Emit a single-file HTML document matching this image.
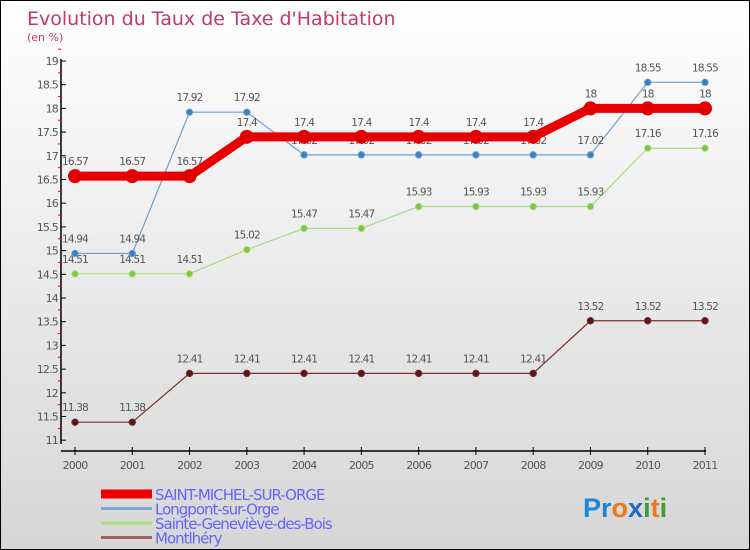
<!DOCTYPE html>
<html><head><meta charset="utf-8"><style>
body{margin:0}
#wrap{position:relative;width:748px;height:548px;border:1px solid #000;background:linear-gradient(#ffffff,#d6d6d6);font-family:"DejaVu Sans","Liberation Sans",sans-serif;overflow:hidden}
</style></head><body>
<div id="wrap">
<svg id="chart" width="748" height="548"></svg>
</div>
<script>
const years=[2000,2001,2002,2003,2004,2005,2006,2007,2008,2009,2010,2011];
const saintMichel=[16.57,16.57,16.57,17.4,17.4,17.4,17.4,17.4,17.4,18,18,18];
const longpont=[14.94,14.94,17.92,17.92,17.02,17.02,17.02,17.02,17.02,17.02,18.55,18.55];
const sainteGenevieve=[14.51,14.51,14.51,15.02,15.47,15.47,15.93,15.93,15.93,15.93,17.16,17.16];
const montlhery=[11.38,11.38,12.41,12.41,12.41,12.41,12.41,12.41,12.41,13.52,13.52,13.52];
const yTicks=[11,11.5,12,12.5,13,13.5,14,14.5,15,15.5,16,16.5,17,17.5,18,18.5,19];
const seriesNames=["SAINT-MICHEL-SUR-ORGE","Longpont-sur-Orge","Sainte-Geneviève-des-Bois","Montlhéry"];
const NS="http://www.w3.org/2000/svg";
const svg=document.getElementById('chart');
const x=i=>74+i*(704-74)/(years.length-1);
const y=v=>60+(19-v)*47.4;
function el(t,a,txt){const e=document.createElementNS(NS,t);for(const k in a)e.setAttribute(k,a[k]);if(txt!==undefined)e.textContent=txt;svg.appendChild(e);return e;}
let t=el('text',{x:26,y:24,'font-size':19,fill:'#c0396a'},"Evolution du Taux de Taxe d'Habitation");


t=el('text',{x:26,y:40,'font-size':11,fill:'#c0396a'},"(en %)");


let a=el('line',{x1:60,y1:58,x2:60,y2:443,stroke:'#000','stroke-width':1.5});


a=el('line',{x1:60,y1:450,x2:705,y2:450,stroke:'#000','stroke-width':1.5});


yTicks.forEach(v=>{
  el('line',{x1:60,y1:y(v),x2:65,y2:y(v),stroke:'#000'});
  el('line',{x1:57,y1:y(v+0.25),x2:60,y2:y(v+0.25),stroke:'#e00'});
  const l=el('text',{x:57,y:y(v)+4,'font-size':11,'text-anchor':'end',fill:'#555','letter-spacing':'-0.8'},String(v));
  
  
});
years.forEach((yr,i)=>{
  el('line',{x1:x(i),y1:446,x2:x(i),y2:454,stroke:'#000'});
  const l=el('text',{x:x(i),y:468,'font-size':11,'text-anchor':'middle',fill:'#555','letter-spacing':'-0.8'},String(yr));
  
  
});
function series(data,color,w,r,dot,name){
  const pl=el('polyline',{points:data.map((v,i)=>x(i)+','+y(v)).join(' '),fill:'none',stroke:color,'stroke-width':w,'stroke-linejoin':'round'});
  
  
  data.forEach((v,i)=>{
    const c=el('circle',{cx:x(i),cy:y(v),r:r,fill:dot,stroke:color,'stroke-width':1});
    
    
    const l=el('text',{x:x(i),y:y(v)-11,'font-size':10.5,'text-anchor':'middle',fill:'#555','letter-spacing':'-0.8'},String(v));
    
    
  });
}
series(montlhery,'#7a3030',1.2,3.2,'#5a1515','montlhery');
series(sainteGenevieve,'#a8dc80',1.2,3.2,'#7ac840','sainte-genevieve');
series(longpont,'#6aa0d0',1.2,3.2,'#3a80c0','longpont');
series(saintMichel,'#e80000',9,6.5,'#e00000','saint-michel');
const legColors=['#ee0000','#80a8d0','#a8dc80','#a06060'];
seriesNames.forEach((n,i)=>{
  const yy=493+i*14.5;
  const ln=el('line',{x1:100,y1:yy,x2:151,y2:yy,stroke:legColors[i],'stroke-width':i==0?9:3});
  
  
  const l=el('text',{x:154,y:yy+6,'font-size':15,fill:'#6464ff','letter-spacing':'-1'},n);
  
  
});
const logo=el('text',{x:582,y:516,'font-size':27,'font-weight':'bold','font-family':'Liberation Sans, sans-serif'});


[['P','#1e88d8'],['r','#1e88d8'],['o','#f07818'],['x','#1e6cc8'],['i','#3aa030'],['t','#f07818'],['i','#3aa030']].forEach(([c,col])=>{const s=document.createElementNS(NS,'tspan');s.setAttribute('fill',col);s.textContent=c;logo.appendChild(s);});
</script>
</body></html>
